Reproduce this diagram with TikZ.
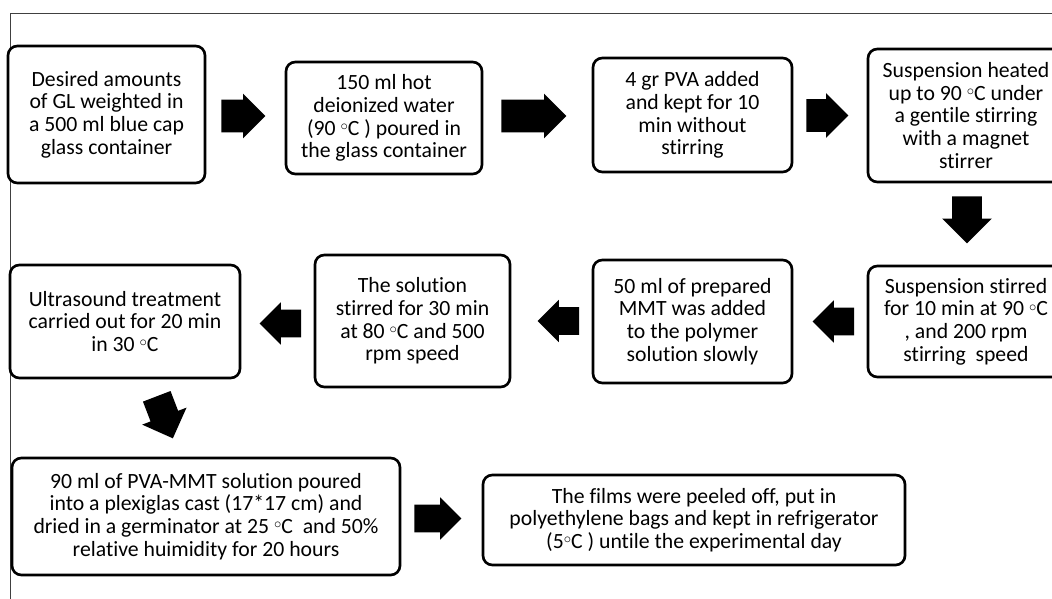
\documentclass[tikz,border=0pt]{standalone}
\usepackage{fontspec}
\setmainfont{Carlito}[Ligatures={NoCommon}]
\usetikzlibrary{shapes.arrows,calc,positioning}
\tikzset{
  box/.style={draw, line width=2pt, rounded corners=7pt, align=center, fill=white, inner sep=2pt, font=\fontsize{16.3pt}{17pt}\selectfont},
  blk/.style={single arrow, fill=black, draw=none, inner sep=0pt, minimum width=0pt, text height=24pt, text depth=0pt, minimum height=33pt, single arrow head extend=4.5pt, anchor=tip},
  blks/.style={blk, text height=20.25pt, single arrow head extend=5.6pt, minimum height=31pt},
  frame/.style={draw=black!75, line width=0.75pt}
}
\newcommand{\dgc}{\smash{\raisebox{0.45ex}{$\scriptstyle\circ$}}C}

\begin{document}
\begin{tikzpicture}[x=0.75pt,y=-0.75pt]
\useasboundingbox (0,0) rectangle (1052,599);
\draw[frame] (10,599) -- (10,14) -- (1052,14);
% first row
\node[box, minimum width=147.75pt, minimum height=102.75pt] (weigh) at (106.5,114.5) {Desired amounts\\of GL weighted in\\a 500 ml blue cap\\glass container};
\node[box, minimum width=147pt, minimum height=84pt] (water) at (384,118) {150 ml hot\\deionized water\\(90 \dgc\ ) poured in\\the glass container};
\node[box, minimum width=149.25pt, minimum height=85.5pt] (pva) at (692.5,115) {4 gr PVA added\\and kept for 10\\min without\\stirring};
\node[box, minimum width=147pt, minimum height=99.75pt] (heat) at (966,115.5) {Suspension heated\\up to 90 \dgc\ under\\a gentile stirring\\with a magnet\\stirrer};
% second row
\node[box, minimum width=147pt, minimum height=83.25pt] (stir) at (966,321.5) {Suspension stirred\\for 10 min at 90 \dgc\\, and 200 rpm\\stirring~ speed};
\node[box, minimum width=149.25pt, minimum height=92.25pt] (mmt) at (692.5,321.5) {50 ml of prepared\\MMT was added\\to the polymer\\solution slowly};
\node[box, minimum width=146.25pt, minimum height=99pt] (solution) at (412.5,321) {The solution\\stirred for 30 min\\at 80 \dgc\ and 500\\rpm speed};
\node[box, minimum width=172.5pt, minimum height=84.75pt] (sonic) at (125,321.5) {Ultrasound treatment\\carried out for 20 min\\in 30 \dgc};
% third row
\node[box, minimum width=291pt, minimum height=87.75pt] (cast) at (206,516.5) {90 ml of PVA-MMT solution poured\\into a plexiglas cast (17*17 cm) and\\dried in a germinator at 25 \dgc~ and 50\%\\relative huimidity for 20 hours};
\node[box, minimum width=316.5pt, minimum height=67.5pt] (store) at (694,520) {The films were peeled off, put in\\polyethylene bags and kept in refrigerator\\(5\dgc\ ) untile the experimental day};
% block arrows
\node[blk] (ar1) at ($(water.west)+(-19,-2)$) {};
\node[blk, minimum height=48.75pt] (ar2) at ($(pva.west)+(-25,1)$) {};
\node[blk, minimum height=31.5pt] (ar3) at ($(heat.west)+(-18,0)$) {};
\node[blks, rotate=-90, text height=21.75pt, single arrow head extend=7.5pt, minimum height=35.25pt] (ar4) at ($(stir.north)+(1,-21)$) {};
\node[blks, rotate=180] (ar5) at ($(mmt.east)+(19,0)$) {};
\node[blks, rotate=180] (ar6) at ($(solution.east)+(26,0)$) {};
\node[blks, rotate=180] (ar7) at ($(sonic.east)+(18,2)$) {};
\node[blks, rotate=-69, text height=21.75pt, single arrow head extend=6.75pt, minimum height=33.75pt] (ar8) at ($(cast.north)+(-33,-18)$) {};
\node[blks, minimum height=35.25pt] (ar9) at ($(store.west)+(-20,-1.5)$) {};
\end{tikzpicture}
\end{document}
